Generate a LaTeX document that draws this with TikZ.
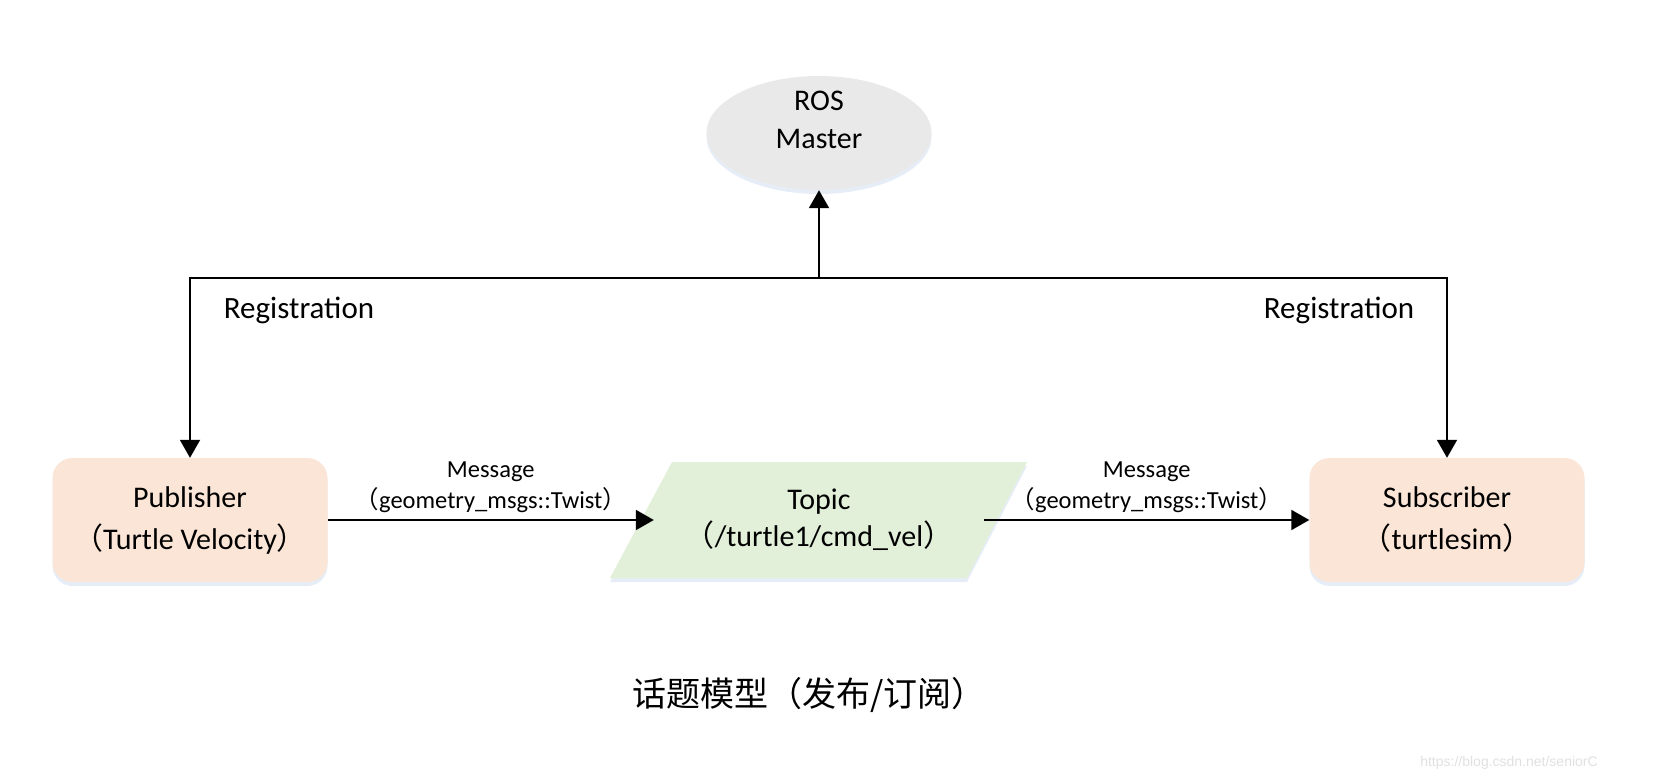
\documentclass[tikz,border=0pt]{standalone}
\usepackage{fontspec}
\setmainfont{Carlito}
\newfontfamily\cjk{Noto Sans CJK SC}
\newfontfamily\urlfont{Liberation Sans}
\usepackage{xcolor}
\usetikzlibrary{shapes.geometric,arrows.meta,shadows}
\definecolor{masterfill}{HTML}{E9E9E9}
\definecolor{nodefill}{HTML}{FBE5D6}
\definecolor{topicfill}{HTML}{E2F0D9}
\definecolor{glow}{HTML}{C9D8EE}
\tikzset{
  % node options
  glowing/.style={drop shadow={shadow xshift=0pt,shadow yshift=-4pt,opacity=.45,fill=glow}},
  master/.style={ellipse,fill=masterfill,glowing,minimum width=225pt,minimum height=114pt},
  client/.style={rectangle,rounded corners=20pt,fill=nodefill,glowing,minimum width=275pt,minimum height=124pt,align=center,font=\fontsize{30}{42}\selectfont},
  topic/.style={rectangle,minimum width=330pt,minimum height=116pt,align=center,font=\fontsize{30}{37}\selectfont},
  plain/.style={font=\fontsize{31}{37}\selectfont},
  msg/.style={align=center,font=\fontsize{24.5}{31}\selectfont},
  % path options
  flow/.style={-{Triangle[length=18pt,width=20pt]},line width=2pt},
}
\begin{document}
\begin{tikzpicture}[x=1pt,y=-1pt]
  \useasboundingbox (0,0) rectangle (1662,783);
  \node[master,label={[yshift=13pt,align=center,font=\fontsize{30}{38}\selectfont]center:ROS\\Master}] (master) at (819,133) {};
  \node[client] (pub) at (190,520) {Publisher\\{\cjk （}Turtle Velocity{\cjk ）}};
  % parallelogram behind the topic
  \fill[topicfill,glowing] (610,578) -- (672,462) -- (1027,462) -- (967,578) -- cycle;
  \node[topic] (topic) at (819,520) {Topic\\{\cjk （}/turtle1/cmd\_vel{\cjk ）}};
  \node[client] (sub) at (1447,520) {Subscriber\\{\cjk （}turtlesim{\cjk ）}};
  \coordinate (hub) at (819,278);
  \draw[flow] (hub) -- (master);
  \draw[flow] (hub) -| (pub);
  \draw[flow] (hub) -| (sub);
  \node[plain] (regL) at (299,310) {Registration};
  \node[plain] (regR) at (1339,310) {Registration};
  \draw[flow] (pub) -- node[msg,above=3pt] (msgL) {Message\\{\cjk （}geometry\_msgs::Twist{\cjk ）}} (topic);
  \draw[flow] (topic) -- node[msg,above=3pt] (msgR) {Message\\{\cjk （}geometry\_msgs::Twist{\cjk ）}} (sub);
  \node[font=\cjk\fontsize{34}{40}\selectfont] (caption) at (809,695) {话题模型（发布/订阅）};
  \node[font=\urlfont\fontsize{14}{16}\selectfont,text=black!12] (mark) at (1509,763) {https://blog.csdn.net/seniorC};
\end{tikzpicture}
\end{document}
